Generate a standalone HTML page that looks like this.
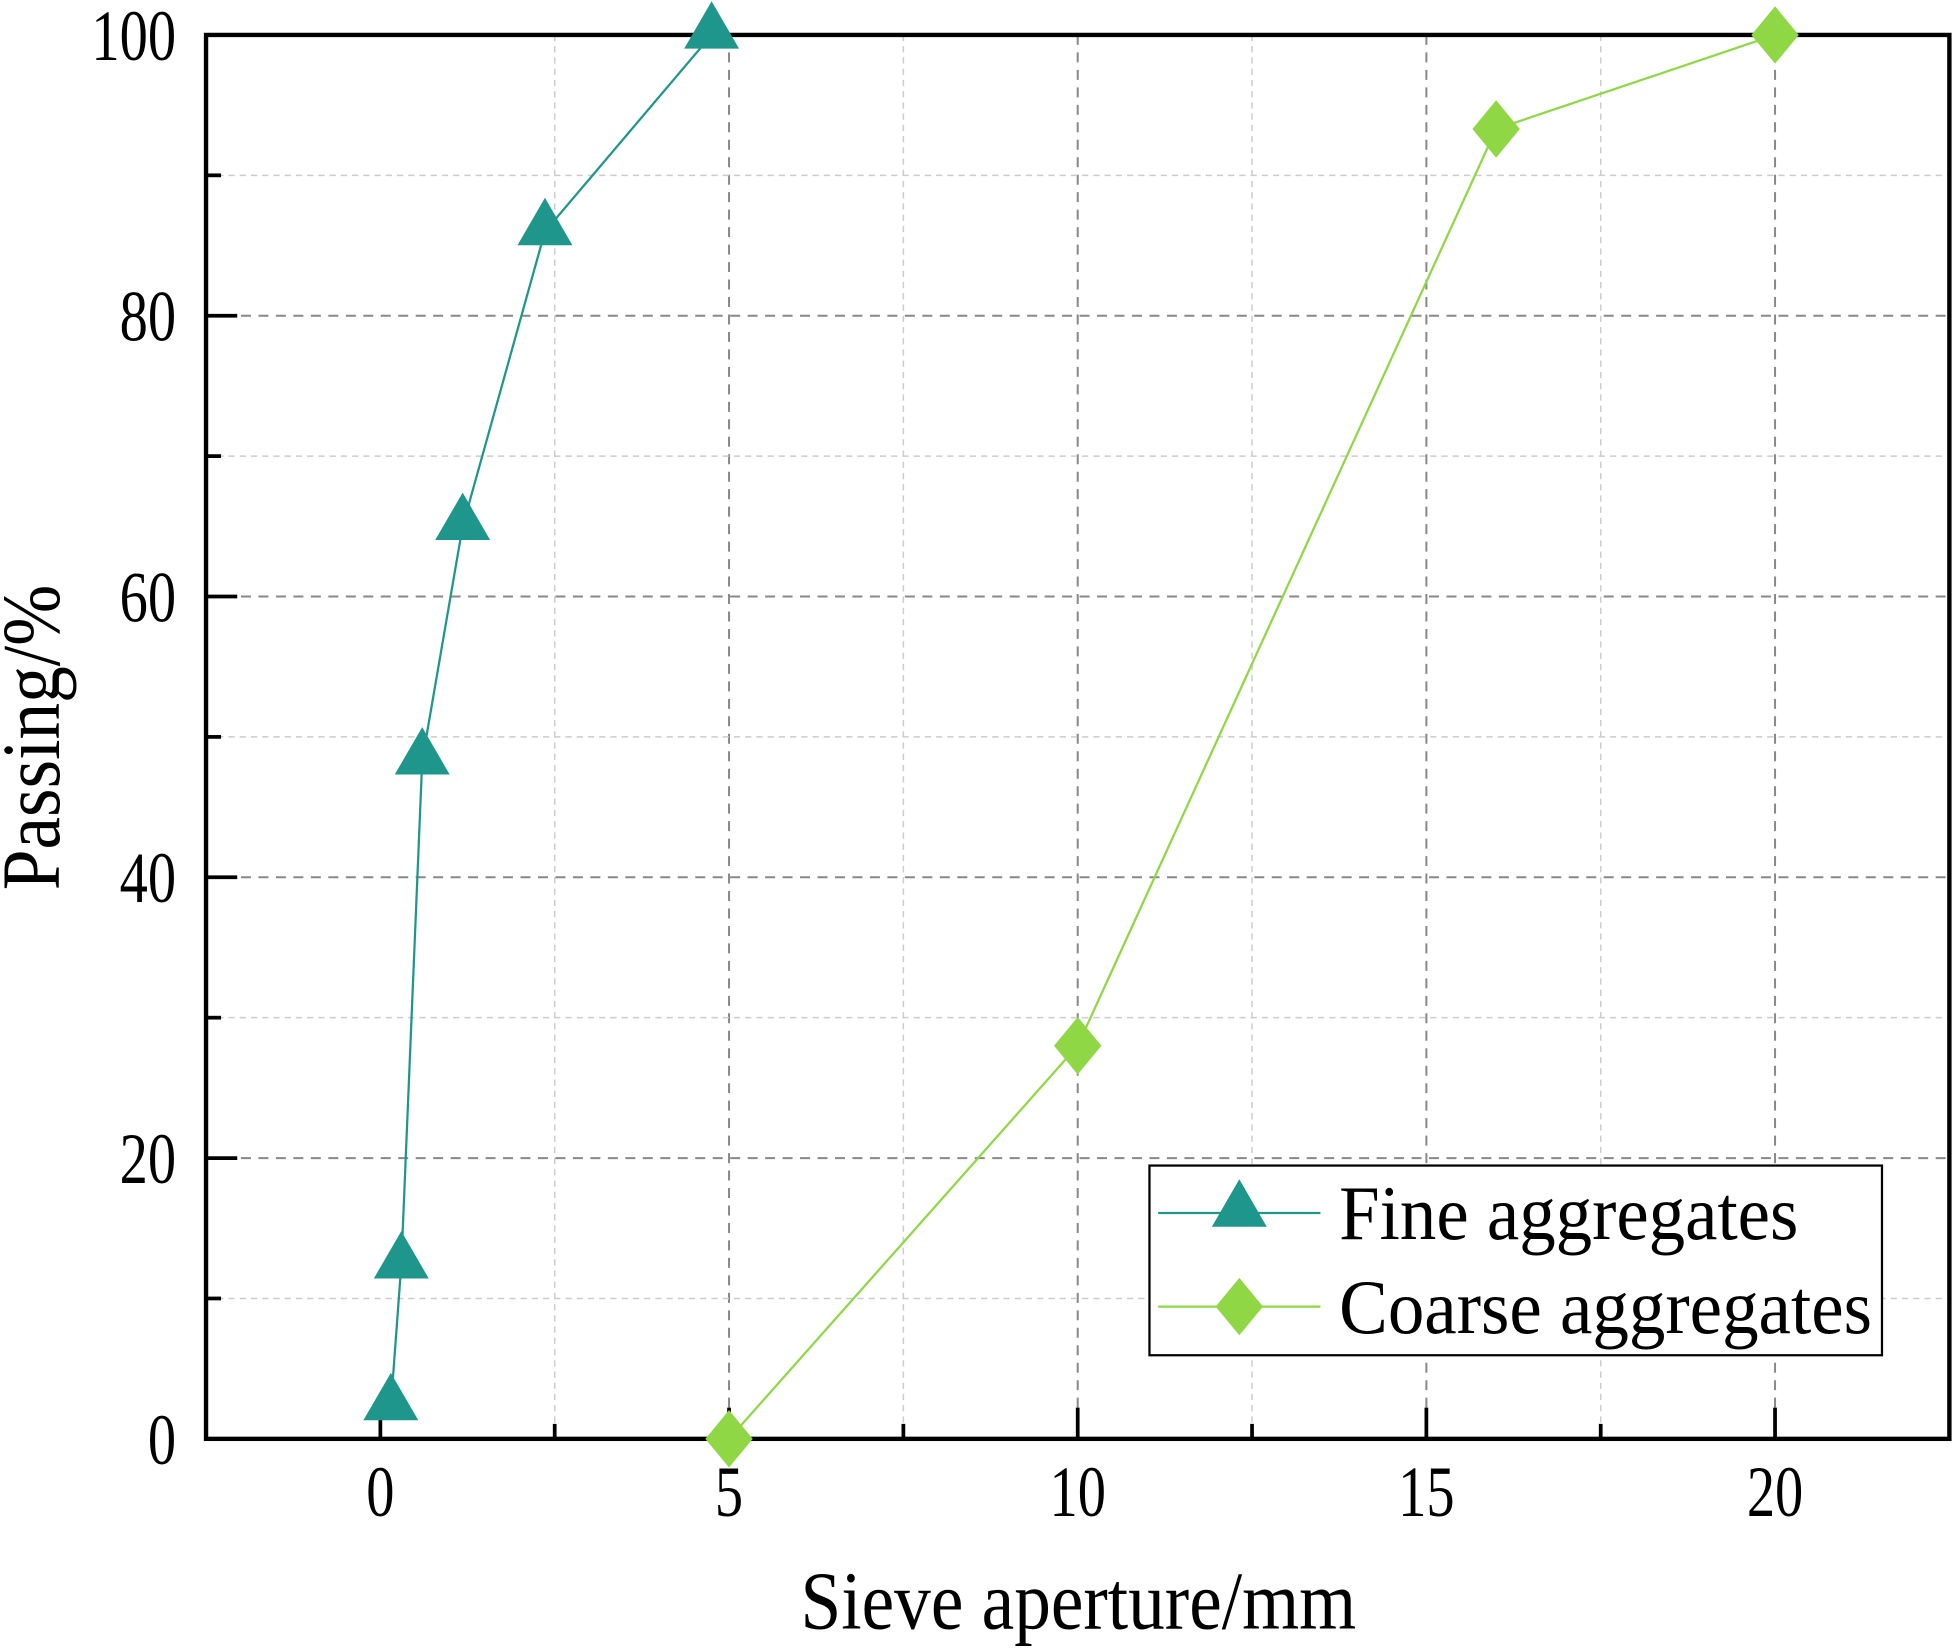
<!DOCTYPE html>
<html><head><meta charset="utf-8"><style>html,body{margin:0;padding:0;background:#fff}svg{display:block}</style></head>
<body>
<svg id="chart" width="1957" height="1651" viewBox="0 0 1568 1323" xmlns="http://www.w3.org/2000/svg" font-family="'Liberation Serif', serif">
<g id="grid"></g><g id="axes"></g><g id="series"></g><g id="legend"></g>
</svg>
<script>
const fineX=[0.15,0.3,0.6,1.18,2.36,4.75];
const fineY=[2.3,12.4,48.3,65,86,100];
const coarseX=[5,10,16,20];
const coarseY=[0,28,93.3,100];
const xTicks=[0,5,10,15,20];
const yTicks=[0,20,40,60,80,100];
const L=165,R=1562,T=28,B=1153,xmin=-2.5,xmax=22.5,ymin=0,ymax=100;
const sx=v=>L+(v-xmin)/(xmax-xmin)*(R-L);
const sy=v=>B-(v-ymin)/(ymax-ymin)*(B-T);
const NS='http://www.w3.org/2000/svg';
function mk(p,t,a){const e=document.createElementNS(NS,t);for(const k in a)e.setAttribute(k,a[k]);p.appendChild(e);return e;}
function txt(p,x,y,s,size,anchor,kx,rot){const t=mk(p,'text',{x:0,y:0,'text-anchor':anchor,'font-size':size,transform:`translate(${x},${y})${rot?' rotate(-90)':''} scale(${kx},1)`});t.textContent=s;return t;}
const grid=document.getElementById('grid'),axes=document.getElementById('axes'),ser=document.getElementById('series'),leg=document.getElementById('legend');
for(let v=2.5;v<=22.5;v+=2.5){const maj=Math.abs(v/5-Math.round(v/5))<1e-6;
const g=mk(grid,'line',{x1:sx(v),x2:sx(v),y1:T,y2:B,stroke:maj?'#888':'#ccc','stroke-width':maj?1.6:1.2,'stroke-dasharray':maj?'8,6':'5,4'});

}
for(let v=10;v<100;v+=10){const maj=v%20===0;
const g=mk(grid,'line',{x1:L,x2:R,y1:sy(v),y2:sy(v),stroke:maj?'#888':'#ccc','stroke-width':maj?1.6:1.2,'stroke-dasharray':maj?'8,6':'5,4'});

}
for(let v=0;v<=22.5;v+=2.5){const maj=v%5===0;
const t=mk(axes,'line',{x1:sx(v),x2:sx(v),y1:B,y2:B-(maj?25:12),stroke:'#000','stroke-width':3});

}
for(let v=0;v<=100;v+=10){const maj=v%20===0;
const t=mk(axes,'line',{x1:L,x2:L+(maj?25:12),y1:sy(v),y2:sy(v),stroke:'#000','stroke-width':3});

}
xTicks.forEach(v=>{const t=txt(axes,sx(v),1215,String(v),58,'middle',0.78,false);

});
yTicks.forEach(v=>{const t=txt(axes,141,sy(v)+20,String(v),58,'end',0.78,false);

});
const fr=mk(axes,'rect',{x:L,y:T,width:R-L,height:B-T,fill:'none',stroke:'#000','stroke-width':3.5});


const xt=txt(axes,864,1305,'Sieve aperture/mm',66,'middle',0.89,false);


const yt=txt(axes,47,591,'Passing/%',66,'middle',0.89,true);


const tc='#1f968b',gc='#8fd744';
function tri(p,x,y,c){return mk(p,'polygon',{points:`${x},${y-27} ${x-22},${y+11} ${x+22},${y+11}`,fill:c});}
function dia(p,x,y,c){return mk(p,'polygon',{points:`${x},${y-23} ${x+19},${y} ${x},${y+23} ${x-19},${y}`,fill:c});}
const fl=mk(ser,'polyline',{points:fineX.map((x,i)=>sx(x)+','+sy(fineY[i])).join(' '),fill:'none',stroke:tc,'stroke-width':1.8});


const cl=mk(ser,'polyline',{points:coarseX.map((x,i)=>sx(x)+','+sy(coarseY[i])).join(' '),fill:'none',stroke:gc,'stroke-width':1.8});


fineX.forEach((x,i)=>{const m=tri(ser,sx(x),sy(fineY[i]),tc);

});
coarseX.forEach((x,i)=>{const m=dia(ser,sx(x),sy(coarseY[i]),gc);

});
const lb=mk(leg,'rect',{x:921,y:934,width:587,height:152,fill:'#fff',stroke:'#000','stroke-width':1.8});


[[972,tc,'Fine aggregates',tri,'legend-entry-fine',368],[1047,gc,'Coarse aggregates',dia,'legend-entry-coarse',427]].forEach(([y,c,s,f,nm,w])=>{
const g=mk(leg,'g',{});


mk(g,'line',{x1:928,x2:1058,y1:y,y2:y,stroke:c,'stroke-width':1.8});
f(g,993,y,c);
const t=mk(g,'text',{x:1073,y:y+21,'font-size':62,textLength:w,lengthAdjust:'spacingAndGlyphs'});t.textContent=s;});
</script>
</body></html>
